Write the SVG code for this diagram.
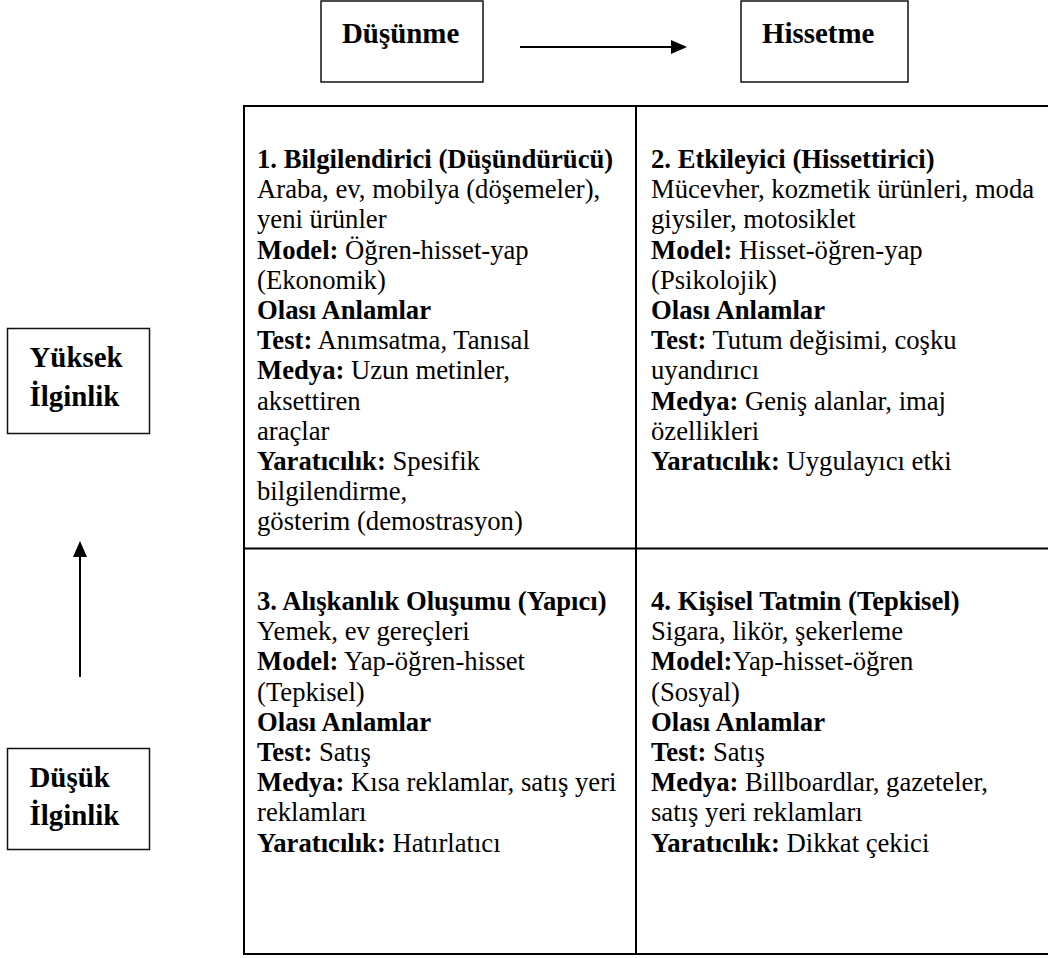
<svg xmlns="http://www.w3.org/2000/svg" width="1048" height="958" viewBox="0 0 1048 958" font-family="'Liberation Serif', Tinos, 'Times New Roman', Times, 'DejaVu Serif', serif">
<style>
text{font-family:'Liberation Serif',Tinos,'Times New Roman',Times,'DejaVu Serif',serif;font-size:26.67px;fill:#000}
.b{font-weight:bold}
.h{font-size:28.9px;font-weight:bold}
.box{fill:#fff;stroke:#111;stroke-width:1.5}
.tl{stroke:#000;stroke-width:2;fill:none}
.con{stroke:#000;stroke-width:2;fill:none}
</style>
<defs>
<marker id="ah" markerWidth="16" markerHeight="14" refX="14" refY="7" orient="auto" markerUnits="userSpaceOnUse">
<path d="M0,0 L16,7 L0,14 z" fill="#000"/>
</marker>
</defs>
<rect width="1048" height="958" fill="#fff"/>

<g id="node-dusunme">
<rect class="box" x="321" y="1" width="162" height="81"/>
<text class="h" x="342" y="43">Düşünme</text>
</g>
<g id="node-hissetme">
<rect class="box" x="741" y="1" width="167" height="81"/>
<text class="h" x="762" y="43">Hissetme</text>
</g>
<g id="node-yuksek">
<rect class="box" x="7.5" y="328.5" width="142" height="105"/>
<text class="h" x="29.5" y="367">Yüksek</text>
<text class="h" x="29.5" y="406">İlginlik</text>
</g>
<g id="node-dusuk">
<rect class="box" x="7.5" y="748.5" width="142" height="101"/>
<text class="h" x="29.5" y="787">Düşük</text>
<text class="h" x="29.5" y="825">İlginlik</text>
</g>

<g id="table-grid">
<line class="tl" x1="243" y1="106" x2="1048" y2="106"/>
<line class="tl" x1="243" y1="954" x2="1048" y2="954"/>
<line class="tl" x1="244" y1="105" x2="244" y2="955"/>
<line class="tl" x1="636" y1="106" x2="636" y2="954"/>
<line class="tl" x1="244" y1="548.5" x2="1048" y2="548.5"/>
</g>

<g id="node-cell1">
<text x="257" y="168" class="b">1. Bilgilendirici (Düşündürücü)</text>
<text x="257" y="198.2">Araba, ev, mobilya (döşemeler),</text>
<text x="257" y="228.4">yeni ürünler</text>
<text x="257" y="258.6"><tspan class="b">Model:</tspan> Öğren-hisset-yap</text>
<text x="257" y="288.8">(Ekonomik)</text>
<text x="257" y="319" class="b">Olası Anlamlar</text>
<text x="257" y="349.2"><tspan class="b">Test:</tspan> Anımsatma, Tanısal</text>
<text x="257" y="379.4"><tspan class="b">Medya:</tspan> Uzun metinler,</text>
<text x="257" y="409.6">aksettiren</text>
<text x="257" y="439.8">araçlar</text>
<text x="257" y="470"><tspan class="b">Yaratıcılık:</tspan> Spesifik</text>
<text x="257" y="500.2">bilgilendirme,</text>
<text x="257" y="530.4">gösterim (demostrasyon)</text>
</g>

<g id="node-cell2">
<text x="651" y="168" class="b">2. Etkileyici (Hissettirici)</text>
<text x="651" y="198.2">Mücevher, kozmetik ürünleri, moda</text>
<text x="651" y="228.4">giysiler, motosiklet</text>
<text x="651" y="258.6"><tspan class="b">Model:</tspan> Hisset-öğren-yap</text>
<text x="651" y="288.8">(Psikolojik)</text>
<text x="651" y="319" class="b">Olası Anlamlar</text>
<text x="651" y="349.2"><tspan class="b">Test:</tspan> Tutum değisimi, coşku</text>
<text x="651" y="379.4">uyandırıcı</text>
<text x="651" y="409.6"><tspan class="b">Medya:</tspan> Geniş alanlar, imaj</text>
<text x="651" y="439.8">özellikleri</text>
<text x="651" y="470"><tspan class="b">Yaratıcılık:</tspan> Uygulayıcı etki</text>
</g>

<g id="node-cell3">
<text x="257" y="610" class="b">3. Alışkanlık Oluşumu (Yapıcı)</text>
<text x="257" y="640.2">Yemek, ev gereçleri</text>
<text x="257" y="670.4"><tspan class="b">Model:</tspan> Yap-öğren-hisset</text>
<text x="257" y="700.6">(Tepkisel)</text>
<text x="257" y="730.8" class="b">Olası Anlamlar</text>
<text x="257" y="761"><tspan class="b">Test:</tspan> Satış</text>
<text x="257" y="791.2"><tspan class="b">Medya:</tspan> Kısa reklamlar, satış yeri</text>
<text x="257" y="821.4">reklamları</text>
<text x="257" y="851.6"><tspan class="b">Yaratıcılık:</tspan> Hatırlatıcı</text>
</g>

<g id="node-cell4">
<text x="651" y="610" class="b">4. Kişisel Tatmin (Tepkisel)</text>
<text x="651" y="640.2">Sigara, likör, şekerleme</text>
<text x="651" y="670.4"><tspan class="b">Model:</tspan>Yap-hisset-öğren</text>
<text x="651" y="700.6">(Sosyal)</text>
<text x="651" y="730.8" class="b">Olası Anlamlar</text>
<text x="651" y="761"><tspan class="b">Test:</tspan> Satış</text>
<text x="651" y="791.2"><tspan class="b">Medya:</tspan> Billboardlar, gazeteler,</text>
<text x="651" y="821.4">satış yeri reklamları</text>
<text x="651" y="851.6"><tspan class="b">Yaratıcılık:</tspan> Dikkat çekici</text>
</g>

<g id="connectors">
<line class="con" x1="520" y1="47" x2="685" y2="47" marker-end="url(#ah)"/>
<line class="con" x1="80" y1="677" x2="80" y2="543" marker-end="url(#ah)"/>
</g>
</svg>
